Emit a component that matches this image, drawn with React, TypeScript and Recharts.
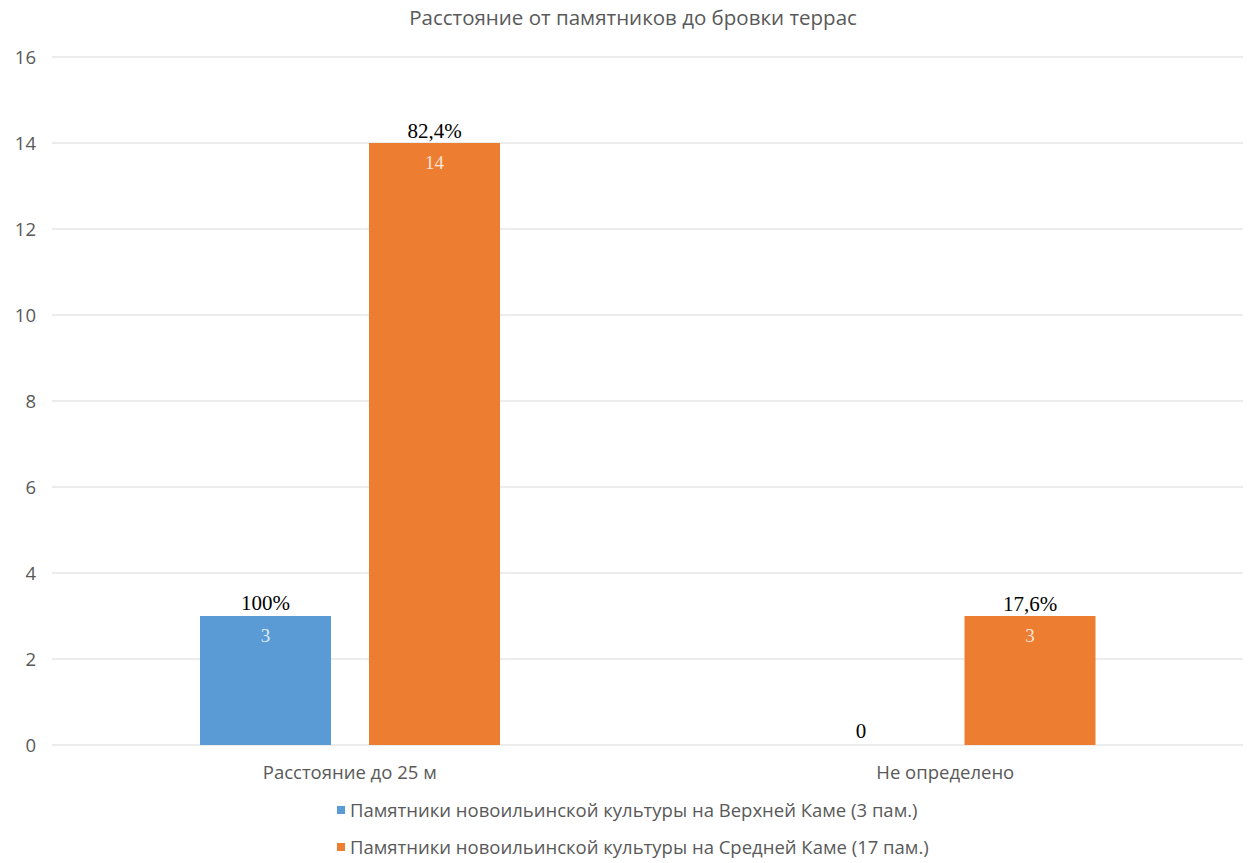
import React from "react";
import { BarChart, Bar, XAxis, YAxis, CartesianGrid, LabelList, Cell } from "recharts";

const categories = ["Расстояние до 25 м", "Не определено"];
const upperKama = [3, 0];
const middleKama = [14, 3];
const upperKamaTop = ["100%", "0"];
const upperKamaInside = ["3", ""];
const middleKamaTop = ["82,4%", "17,6%"];
const middleKamaInside = ["14", "3"];
const yTicks = [0, 2, 4, 6, 8, 10, 12, 14, 16];
const seriesNames = [
  "Памятники новоильинской культуры на Верхней Каме (3 пам.)",
  "Памятники новоильинской культуры на Средней Каме (17 пам.)",
];
const title = "Расстояние от памятников до бровки террас";

const BLUE = "#5B9BD5";
const ORANGE = "#ED7D31";
const GRAY = "#595959";
const SANS = "'Open Sans', 'Noto Sans', sans-serif";
const SERIF = "'Liberation Serif', 'DejaVu Serif', serif";

const data = categories.map((c, i) => ({
  name: c,
  upper: upperKama[i],
  middle: middleKama[i],
  upperTop: upperKamaTop[i],
  upperIn: upperKamaInside[i],
  middleTop: middleKamaTop[i],
  middleIn: middleKamaInside[i],
}));

const colors = [BLUE, ORANGE];

export default function App() {
  return (
    <div style={{ position: "absolute", left: 0, top: 0, width: 1256, height: 863, background: "#fff" }}>
      <div
        style={{
          position: "absolute",
          top: 3,
          left: 0,
          width: 1256,
          textAlign: "center",
          fontFamily: SANS,
          fontSize: 20.5,
          color: GRAY,
          paddingLeft: 10,
          boxSizing: "border-box",
        }}
      >
        {title}
      </div>
      <BarChart
        width={1256}
        height={863}
        data={data}
        margin={{ top: 57, right: 13, bottom: 78, left: 0 }}
        barSize={131}
        barGap={38}
      >
        <CartesianGrid vertical={false} stroke="#D9D9D9" />
        <XAxis
          dataKey="name"
          axisLine={false}
          tickLine={false}
          height={40}
          tickMargin={15}
          tick={{ fill: GRAY, fontSize: 18.5, fontFamily: SANS }}
        />
        <YAxis
          width={52}
          domain={[0, 16]}
          ticks={yTicks}
          axisLine={false}
          tickLine={false}
          tickMargin={10}
          tick={{ fill: GRAY, fontSize: 18.5, fontFamily: SANS }}
        />
        <Bar
          dataKey="upper"
          fill={BLUE}
          isAnimationActive={false}
          minPointSize={(v: number) => (v === 0 ? 1 : 0)}
        >
          {data.map((d, i) => (
            <Cell key={i} fill={d.upper === 0 ? "transparent" : BLUE} />
          ))}
          <LabelList dataKey="upperTop" position="top" offset={6} fill="#000" fontSize={21} fontFamily={SERIF} />
          <LabelList dataKey="upperIn" position="insideTop" offset={13} fill="#DDEBF7" fontSize={19} fontFamily={SERIF} />
        </Bar>
        <Bar dataKey="middle" fill={ORANGE} isAnimationActive={false}>
          <LabelList dataKey="middleTop" position="top" offset={5} fill="#000" fontSize={21} fontFamily={SERIF} />
          <LabelList dataKey="middleIn" position="insideTop" offset={13} fill="#FCE4D6" fontSize={19} fontFamily={SERIF} />
        </Bar>
      </BarChart>
      <div
        style={{
          position: "absolute",
          top: 791,
          left: 337,
          fontFamily: SANS,
          fontSize: 18.5,
          color: GRAY,
        }}
      >
        {seriesNames.map((n, i) => (
          <div key={n} style={{ display: "flex", alignItems: "center", height: 37, whiteSpace: "nowrap" }}>
            <span style={{ display: "inline-block", width: 8, height: 8, background: colors[i], marginRight: 5 }} />
            <span>{n}</span>
          </div>
        ))}
      </div>
    </div>
  );
}
